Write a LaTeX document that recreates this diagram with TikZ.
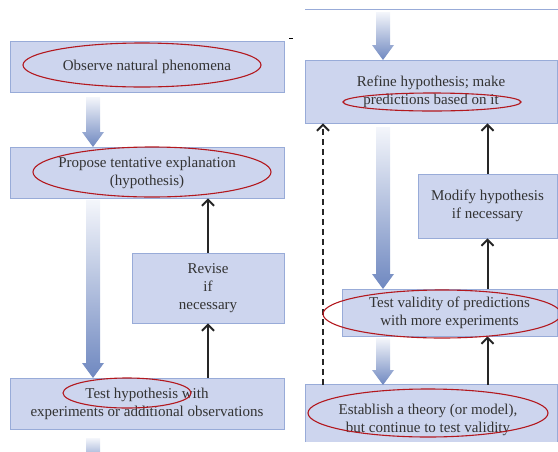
\documentclass[tikz,border=0pt]{standalone}
\usepackage{fontspec}
\setmainfont{Liberation Serif}
\usetikzlibrary{arrows.meta}
\definecolor{boxfill}{HTML}{CDD5EE}
\definecolor{boxline}{HTML}{98ABD8}
\definecolor{ellred}{HTML}{B3181E}
\definecolor{txt}{HTML}{333333}
\definecolor{fatdark}{HTML}{6F88C0}
\definecolor{fatlight}{HTML}{F4F6FB}
\newcommand\fatarrow[3]{%
  \shade[top color=fatlight, bottom color=fatdark]
    (#1-7,#2) -- (#1+7,#2) -- (#1+7,#3-15) -- (#1+11,#3-15) -- (#1,#3)
    -- (#1-11,#3-15) -- (#1-7,#3-15) -- cycle;}
\begin{document}
\begin{tikzpicture}[x=1pt,y=-1pt,
  box/.style={draw=boxline, fill=boxfill, line width=0.8pt, inner sep=0pt,
    text=txt, align=center, font=\fontsize{15}{18}\selectfont},
  plainfill/.style={fill=boxfill, inner sep=0pt},
  label/.style={text=txt, align=center, font=\fontsize{15}{18}\selectfont, inner sep=0pt},
  oval/.style={draw=ellred, line width=1.1pt},
  thinarrow/.style={draw=black!85, line width=2pt,
    -{Straight Barb[length=6pt,width=12pt,line width=2pt]}},
]
\useasboundingbox (0,0) rectangle (558,451);

% left column
\node[box, minimum width=274pt, minimum height=51pt] (b1) at (147,66.5) {Observe natural phenomena};
\node[box, minimum width=274pt, minimum height=51pt] (b2) at (147,172.5) {Propose tentative explanation\\(hypothesis)};
\node[box, minimum width=152pt, minimum height=70pt] (rev) at (208,288) {Revise\\if\\necessary};
\node[box, minimum width=274pt, minimum height=51pt] (b3) at (147,403.5) {Test hypothesis with\\experiments or additional observations};

% right column
\draw[boxline, line width=0.8pt] (305,9) -- (558,9);
\draw[black, line width=0.6pt] (289,38) -- (293,38);
\node[box, minimum width=252pt, minimum height=63pt] (R1) at (431,91.5) {Refine hypothesis; make\\predictions based on it};
\node[box, minimum width=139pt, minimum height=64pt] (mod) at (487.5,206) {Modify hypothesis\\if necessary};
\node[box, minimum width=215pt, minimum height=47pt] (R2) at (449.5,312.5) {Test validity of predictions\\with more experiments};
\node[plainfill, minimum width=251pt, minimum height=57pt] (R3) at (431.5,413.5) {};
\draw[boxline, line width=0.8pt] (R3.south west) -- (R3.north west) -- (R3.north east) -- (R3.south east);
\node[label] (R3t) at (428,420) {Establish a theory (or model),\\but continue to test validity};

% fat gradient arrows
\fatarrow{93}{97}{147}
\fatarrow{93}{200}{378}
\shade[top color=fatlight, bottom color=fatdark!45!fatlight] (86,438) rectangle (100,451);
\fatarrow{383}{12}{60}
\fatarrow{383}{127}{289}
\fatarrow{383}{338}{385}

% thin arrows
\draw[thinarrow] (rev.north) -- (rev.north |- b2.south);
\draw[thinarrow] (b3.north -| rev.center) -- (rev.south);
\draw[thinarrow] (mod.north) -- (mod.north |- R1.south);
\draw[thinarrow] (R2.north -| mod.center) -- (mod.south);
\draw[thinarrow] (R3.north -| mod.center) -- (R2.south -| mod.center);
\coordinate (dx) at (323,0);
\draw[thinarrow, dash pattern=on 6pt off 4pt] (R3.north -| dx) -- (R1.south -| dx);

% red ellipses
\draw[oval] (142,65) ellipse [x radius=119, y radius=22];
\draw[oval] (152,172) ellipse [x radius=119, y radius=25];
\draw[oval] (127,393) ellipse [x radius=64, y radius=15];
\draw[oval] (432,102) ellipse [x radius=89, y radius=9];
\draw[oval] (442,314) ellipse [x radius=119, y radius=24];
\draw[oval] (428,413) ellipse [x radius=120, y radius=24];
\end{tikzpicture}
\end{document}
